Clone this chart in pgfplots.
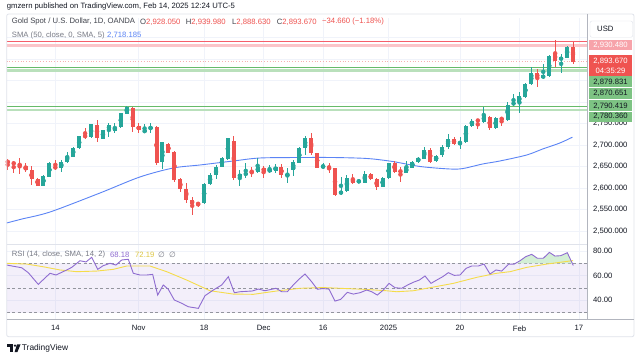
\documentclass[border=0pt]{standalone}
\usepackage{fontspec}
\setmainfont{Liberation Sans}
\newfontfamily\djv{DejaVu Sans}
\usepackage{pgfplots}
\usepackage{pgfplotstable}
\pgfplotsset{compat=1.18}

\definecolor{up}{HTML}{26A69A}
\definecolor{dn}{HTML}{EF5350}
\definecolor{gridc}{HTML}{F0F3FA}
\definecolor{txt}{HTML}{131722}
\definecolor{gtxt}{HTML}{787B86}
\definecolor{smac}{HTML}{5B84F5}
\definecolor{rsic}{HTML}{8E6BD0}
\definecolor{rsism}{HTML}{F5DC4A}
\definecolor{framec}{HTML}{E0E3EB}
\definecolor{axc}{HTML}{B2B5BE}
\definecolor{lred}{HTML}{F7A3AA}
\definecolor{zred}{HTML}{F23645}
\definecolor{zredl}{HTML}{FBC5C9}
\definecolor{zgrn}{HTML}{66BB6A}
\definecolor{zgrnl}{HTML}{B9E0BB}
\definecolor{lgrn}{HTML}{7DC383}
\definecolor{obfill}{HTML}{D3EFD5}

\newcommand{\fs}{\fontsize{7.7}{9}\selectfont}

\pgfplotstableread{
n O H L C
7 2605.5 2629.5 2603.9 2627.9
8 2626.4 2660.5 2624.8 2657.4
10 2647.3 2665.1 2638 2661.3
11 2661.3 2684.5 2659 2674.4
12 2672.9 2696.1 2672.9 2692.3
13 2692.3 2721 2689.9 2720.9
15 2717.9 2748.1 2715.5 2748.1
17 2714.8 2734.9 2713.2 2734.9
18 2734.9 2750.4 2719.4 2746.5
19 2733.4 2750.4 2728.7 2741.1
20 2741.1 2775.2 2740.3 2773.7
21 2772.1 2791.5 2772.1 2787.6
24 2729.5 2748.1 2728.7 2734.9
25 2736.4 2750.4 2728.7 2742.7
27 2661.3 2707.8 2643.5 2706.2
34 2564.4 2610.9 2562.9 2609.4
35 2608.6 2634.2 2607 2630.3
36 2630.3 2653.5 2620.2 2648.1
37 2648.1 2672.9 2648.1 2669
38 2666.7 2717.1 2665.1 2715.5
40 2624.9 2641.9 2604.7 2632.6
41 2629.5 2657.4 2622.5 2635.7
43 2638 2669 2634.2 2648.1
45 2638 2653.5 2634.2 2643.5
46 2640.3 2655.8 2634.2 2649.6
48 2630.3 2645.8 2612.5 2631.8
49 2641.9 2665.1 2627.9 2661.3
50 2658.9 2696.1 2657.4 2693.8
51 2693.8 2721 2676.8 2717.1
54 2647.3 2657.4 2643.5 2652
57 2585.3 2626.4 2583.8 2593.1
58 2593.1 2630.3 2591.5 2622.5
60 2614 2620.2 2610.9 2617.1
61 2612.5 2639.6 2610.9 2631.8
64 2603.1 2624.9 2601.6 2622.5
65 2622.5 2658.9 2621 2657.4
68 2635.7 2662.8 2634.2 2648.1
69 2647.3 2663.6 2645.8 2661.3
70 2661.3 2672.9 2658.9 2669
71 2667.5 2696.1 2666.7 2688.4
73 2662.8 2676.8 2661.3 2675.2
74 2676.8 2700 2672.9 2696.1
75 2694.6 2725.6 2691.5 2714
77 2702.3 2717.9 2689.9 2707.8
78 2707.8 2746.5 2705.5 2744.2
79 2744.2 2760.5 2742.7 2756.6
81 2752.7 2787.6 2751.9 2770.6
83 2738.8 2764.4 2736.4 2763.6
85 2758.2 2800.8 2756.6 2793
86 2794.6 2817.8 2790.7 2798.4
87 2800.8 2824 2773.7 2813.9
88 2812.4 2845 2810.1 2841.9
89 2841.1 2882.1 2839.5 2868.2
91 2855 2887.6 2852.7 2862.8
92 2861.2 2909.3 2858.9 2907.7
94 2897.7 2910.8 2866.7 2903.8
95 2903.1 2931 2901.5 2928.7
}\upc

\pgfplotstableread{
n O H L C
1 2662.8 2666.7 2641.9 2658.9
2 2658.9 2662.8 2634.2 2655.9
3 2655.9 2669 2631.8 2652
4 2650.4 2657.4 2638 2641.1
5 2641.1 2651.2 2607 2620.2
6 2621 2624 2604.7 2605.5
9 2648.9 2665.9 2641.9 2646.6
14 2723.3 2739.6 2714.8 2717.9
16 2746.5 2758.2 2706.2 2715.5
22 2786.8 2789.2 2731 2742.7
23 2744.2 2750.4 2728.7 2734.9
26 2742.7 2744.2 2653.5 2658.9
28 2702.3 2703.9 2680.6 2682.2
29 2683.7 2686.1 2614.8 2618.7
30 2620.2 2622.5 2591.5 2597
31 2597 2610.9 2564.4 2572.2
32 2572.2 2579.9 2537.3 2562.1
33 2566 2567.5 2556.6 2560.5
39 2710.1 2721 2618.7 2624.1
42 2638.8 2648.1 2624.9 2637.3
44 2647.3 2651.2 2622.5 2638
47 2648.1 2655.8 2622.5 2630.3
52 2715.5 2727.1 2676.8 2680.6
53 2680.6 2682.2 2645.8 2647.3
55 2651.2 2657.4 2634.2 2645
56 2645.8 2647.3 2581.5 2583.8
59 2620.2 2631.8 2608.6 2612.5
62 2631.8 2634.2 2618.7 2621
63 2621 2624.1 2595.4 2603.1
66 2657.4 2663.6 2635.7 2638
67 2640.3 2648.1 2614.8 2637.3
72 2688.4 2692.3 2657.4 2661.3
76 2714 2717.9 2700 2701.6
80 2758.2 2759.7 2736.4 2755.8
82 2764.4 2767.5 2734.9 2738.8
84 2763.6 2765.9 2744.2 2758.2
90 2868.2 2876 2835.6 2855
93 2913.2 2944.2 2882.1 2896.1
96 2928.05 2939.98 2888.63 2893.67
}\dnc

\begin{document}
\begin{tikzpicture}
\path[use as bounding box] (0pt,-361pt) rectangle (643pt,0pt);
\fill[white] (0pt,-361pt) rectangle (643pt,0pt);

\begin{axis}[at={(6.5pt,-244pt)}, anchor=south west, scale only axis,
  width=580.5pt, height=226pt,
  xmin=0.79, xmax=98.35, ymin=2469.8, ymax=2995.3,
  axis line style={draw=none}, tick style={draw=none},
  xtick={9,23,34,44,54,65,77,87,97}, xticklabels={},
  ytick={2500,2550,...,2750},
  extra y ticks={2800,2850,2900,2950}, extra y tick labels={},
  extra y tick style={grid=major},
  grid=major, grid style={gridc, line width=0.7pt},
  yticklabel pos=right,
  yticklabel style={anchor=west, inner sep=0pt, xshift=6pt, font=\fs, text=txt},
  /pgf/number format/.cd, fixed, fixed zerofill, precision=3, 1000 sep={,}, assume math mode=true]
\addplot[zredl, line width=2.3pt] coordinates {(0.79,2931.5) (98.35,2931.5)};
\addplot[zred!80, line width=0.9pt] coordinates {(0.79,2940) (98.35,2940)};
\addplot[zgrnl, line width=2.3pt] coordinates {(0.79,2873.3) (98.35,2873.3)};
\addplot[zgrn, line width=0.9pt] coordinates {(0.79,2879.5) (98.35,2879.5)};
\addplot[zgrnl, line width=2.3pt] coordinates {(0.79,2782) (98.35,2782)};
\addplot[zgrn, line width=0.9pt] coordinates {(0.79,2789.2) (98.35,2789.2)};
\addplot[dn!45, line width=0.8pt, dotted] coordinates {(0.79,2893.67) (98.35,2893.67)};
\addplot[smac, line width=0.9pt, smooth] coordinates {(0.8,2518.6) (3.39,2527.9) (8.1,2544.2) (16.5,2588.4) (23.2,2625.6) (28.8,2646.5) (33.3,2653.5) (38.9,2662.8) (43.4,2669.8) (50.1,2670.9) (55.7,2670.9) (61.4,2668.6) (65.7,2661.6) (70.3,2650) (75.3,2644.2) (77.5,2645.3) (80.8,2655.8) (83.7,2662.8) (88.2,2676.7) (90.9,2690.7) (93.8,2704.7) (95.9,2718.2)};
\addplot[color=up, only marks, mark=none, forget plot,
  error bars/.cd, y dir=both, y explicit, error mark=none,
  error bar style={solid, line width=0.9pt, color=up}]
  table[x=n, y expr={(\thisrow{H}+\thisrow{L})/2}, y error expr={(\thisrow{H}-\thisrow{L})/2}] {\upc};
\addplot[color=dn, only marks, mark=none, forget plot,
  error bars/.cd, y dir=both, y explicit, error mark=none,
  error bar style={solid, line width=0.9pt, color=dn}]
  table[x=n, y expr={(\thisrow{H}+\thisrow{L})/2}, y error expr={(\thisrow{H}-\thisrow{L})/2}] {\dnc};
\addplot[color=up, only marks, mark=none, forget plot,
  error bars/.cd, y dir=both, y explicit, error mark=none,
  error bar style={solid, line width=4pt, color=up}]
  table[x=n, y expr={(\thisrow{O}+\thisrow{C})/2}, y error expr={max(abs(\thisrow{C}-\thisrow{O})/2,0.9)}] {\upc};
\addplot[color=dn, only marks, mark=none, forget plot,
  error bars/.cd, y dir=both, y explicit, error mark=none,
  error bar style={solid, line width=4pt, color=dn}]
  table[x=n, y expr={(\thisrow{O}+\thisrow{C})/2}, y error expr={max(abs(\thisrow{C}-\thisrow{O})/2,0.9)}] {\dnc};
\end{axis}

\begin{axis}[at={(6.5pt,-319.3pt)}, anchor=south west, scale only axis,
  width=580.5pt, height=75.3pt,
  xmin=0.79, xmax=98.35, ymin=24.5, ymax=85.7,
  axis line style={draw=none}, tick style={draw=none},
  xtick={9,23,34,44,54,65,77,87,97},
  xticklabels={14,Nov,18,Dec,16,2025,20,Feb,17},
  xticklabel style={anchor=center, inner sep=0pt, yshift=-9pt, font=\fs, text=txt},
  ytick={40,60,80},
  grid=major, grid style={gridc, line width=0.7pt},
  yticklabel pos=right,
  yticklabel style={anchor=west, inner sep=0pt, xshift=6pt, font=\fs, text=txt},
  /pgf/number format/.cd, fixed, fixed zerofill, precision=2, assume math mode=true]
\addplot[fill=rsic, fill opacity=0.1, draw=none] coordinates {(0.79,30) (98.35,30) (98.35,70) (0.79,70)} -- cycle;
\addplot[color=gtxt!80, line width=0.6pt, dash pattern=on 3pt off 2.5pt] coordinates {(0.79,70) (98.35,70)};
\addplot[color=gtxt!80, line width=0.6pt, dash pattern=on 3pt off 2.5pt] coordinates {(0.79,50) (98.35,50)};
\addplot[color=gtxt!80, line width=0.6pt, dash pattern=on 3pt off 2.5pt] coordinates {(0.79,30) (98.35,30)};
\addplot[fill=obfill, draw=none] coordinates {(86.6,70) (87.09,72.1) (88.05,75.4) (89.06,77.3) (90.0,74.1) (91.01,74.1) (92.02,78.9) (92.97,75.9) (93.93,76.2) (95.04,78.6) (95.9,70)} -- cycle;
\addplot[rsism, line width=0.9pt] coordinates {(0.82,70) (4.18,69.4) (6.97,67.2) (9.78,64.6) (12.59,63.2) (15.95,63.7) (18.74,65.1) (20.99,67.8) (24.91,67.8) (27.71,63.2) (31.08,56.4) (35.0,47.7) (38.91,45.0) (42.27,44.8) (46.2,47.5) (50.12,49.7) (54.0,50.3) (56.84,49.7) (60.76,48.9) (64.69,47.7) (66.37,46.9) (69.16,47.7) (71.97,50.2) (75.88,53.7) (79.82,58.6) (83.17,61.9) (85.41,63.2) (88.22,66.7) (91.58,69.4) (96.0,72.2)};
\addplot[rsic, line width=0.9pt] coordinates {(0.82,68.6) (3.34,66.4) (4.45,62.4) (6.13,52.9) (8.1,61.9) (9.11,60.5) (10.91,64.6) (11.75,66.7) (13.14,72.1) (14.15,71.1) (15.11,74.9) (16.12,65.1) (17.01,68.0) (18.18,70.0) (19.19,68.6) (20.15,72.7) (21.26,73.3) (22.1,61.9) (23.23,60.5) (24.35,60.5) (25.36,61.0) (26.2,44.2) (27.14,52.4) (27.98,48.9) (28.99,40.2) (30.24,37.5) (31.34,34.7) (33.03,33.4) (34.15,43.7) (35.55,48.3) (36.96,52.4) (38.07,59.1) (39.08,46.1) (40.03,46.9) (42.1,47.5) (43.11,49.1) (44.24,47.7) (46.08,49.7) (47.04,46.9) (47.98,46.9) (48.99,52.4) (50.12,57.8) (50.96,61.3) (52.08,55.0) (53.03,48.9) (54.0,49.5) (55.0,49.0) (56.0,39.3) (56.96,40.7) (58.07,46.4) (59.08,45.0) (60.2,46.1) (61.33,48.3) (62.17,46.9) (63.11,44.2) (64.12,48.3) (65.08,53.7) (66.08,50.2) (67.21,49.7) (68.22,52.4) (69.16,54.6) (70.17,56.4) (71.13,59.7) (72.13,53.7) (73.09,56.4) (74.1,59.1) (75.04,62.4) (76.05,60.2) (77.01,60.5) (78.02,65.9) (78.97,67.8) (80.08,67.8) (81.04,69.4) (82.05,61.3) (83.06,64.6) (84.02,63.7) (85.13,69.2) (86.13,69.4) (87.09,72.1) (88.05,75.4) (89.06,77.3) (90.0,74.1) (91.01,74.1) (92.02,78.9) (92.97,75.9) (93.93,76.2) (95.04,78.6) (96.05,68.2)};
\end{axis}

\begin{scope}[x=1pt,y=-1pt]
\draw[framec, line width=0.8pt, rounded corners=2pt] (6.7,14) rectangle (634,336.7);
\draw[framec, line width=0.8pt] (6.7,244) -- (587,244);
\draw[axc, line width=0.7pt] (587,14) -- (587,319.3);
\draw[axc, line width=0.7pt] (6.7,319.3) -- (634,319.3);

% header
\node[anchor=west, inner sep=0pt, font=\fs, text=txt] at (6.7,6.5) {gmzern published on TradingView.com, Feb 14, 2025 12:24 UTC-5};
\node[anchor=west, inner sep=0pt, font=\fs, text=txt!80] at (11.7,22) {Gold Spot / U.S. Dollar, 1D, OANDA};
\node[anchor=west, inner sep=0pt, font=\fs, text=txt!80] at (140,22) {O\textcolor{dn}{2,928.050}};
\node[anchor=west, inner sep=0pt, font=\fs, text=txt!80] at (185.7,22) {H\textcolor{dn}{2,939.980}};
\node[anchor=west, inner sep=0pt, font=\fs, text=txt!80] at (232,22) {L\textcolor{dn}{2,888.630}};
\node[anchor=west, inner sep=0pt, font=\fs, text=txt!80] at (276.7,22) {C\textcolor{dn}{2,893.670}};
\node[anchor=west, inner sep=0pt, font=\fs, text=dn] at (322,22) {−34.660 (−1.18\%)};
\node[anchor=west, inner sep=0pt, font=\fs, text=gtxt] at (11.7,35.5) {SMA (50, close, 0, SMA, 5)};
\node[anchor=west, inner sep=0pt, font=\fs, text=smac] at (107,35.5) {2,718.185};
% RSI header
\node[anchor=west, inner sep=0pt, font=\fs, text=gtxt] at (11.7,254.5) {RSI (14, close, SMA, 14, 2)};
\node[anchor=west, inner sep=0pt, font=\fs, text=rsic] at (110,254.5) {68.18};
\node[anchor=west, inner sep=0pt, font=\fs, text=rsism!90!black] at (135,254.5) {72.19};
\node[anchor=west, inner sep=0pt, font=\fs, text=gtxt] at (158,254.5) {{\djv ∅}\ \ {\djv ∅}};

% price scale labels
\draw[framec, fill=white, rounded corners=2pt] (590,21) rectangle (632.7,37.3);
\node[anchor=west, inner sep=0pt, font=\fs, text=txt] at (597,29.2) {USD};
\fill[lred] (589,40.5) rectangle (632,50.5);
\node[inner sep=0pt, font=\fs, text=white] at (610.5,45.5) {2,930.480};
\fill[dn] (589,55.5) rectangle (632,76);
\node[inner sep=0pt, font=\fs, text=white] at (610.5,61) {2,893.670};
\node[inner sep=0pt, font=\fs, text=white] at (610.5,70.5) {04:35:29};
\fill[lgrn] (589,76.5) rectangle (632,87.5);
\fill[lgrn] (589,88) rectangle (632,99.3);
\node[inner sep=0pt, font=\fs, text=txt] at (610.5,82) {2,879.831};
\node[inner sep=0pt, font=\fs, text=txt] at (610.5,93.5) {2,870.651};
\fill[lgrn] (589,100.3) rectangle (632,111.3);
\fill[lgrn] (589,111.8) rectangle (632,122);
\node[inner sep=0pt, font=\fs, text=txt] at (610.5,106) {2,790.419};
\node[inner sep=0pt, font=\fs, text=txt] at (610.5,116.8) {2,780.360};

% TradingView logo
\fill[txt] (7,344.3) rectangle (13.2,346.6);
\fill[txt] (10.3,344.3) rectangle (12.8,352);
\fill[txt] (15,345.6) circle (1.3);
\fill[txt] (17,344.3) -- (20.6,344.3) -- (17.4,352) -- (14.6,352) -- cycle;
\node[anchor=west, inner sep=0pt, font=\fontsize{8.4}{10}\selectfont, text=txt] at (21.7,348.3) {TradingView};
\end{scope}
\end{tikzpicture}
\end{document}
